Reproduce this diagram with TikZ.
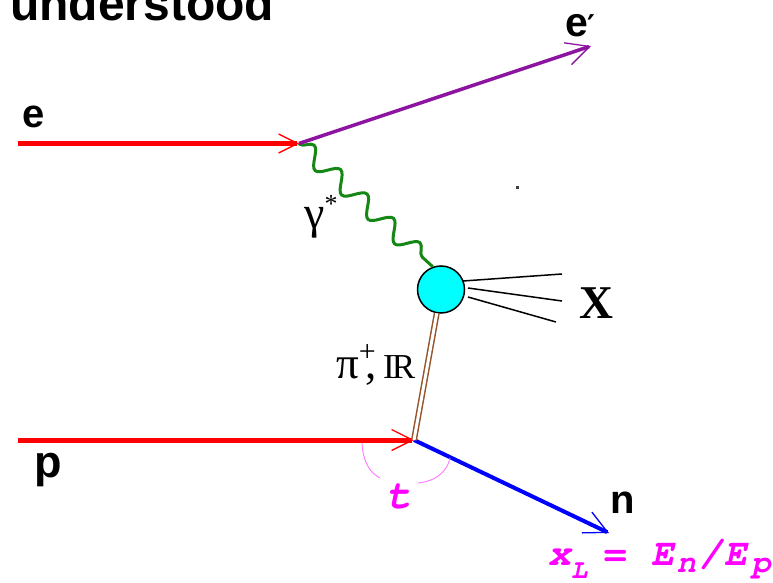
\documentclass[tikz,border=0pt]{standalone}
\usepackage{fontspec}
\setmainfont{Liberation Serif}
\setsansfont{Liberation Sans}
\newfontfamily\cursorf{TeX Gyre Cursor}
\newfontfamily\djv{DejaVu Sans}
\usetikzlibrary{arrows.meta,decorations.pathmorphing}
\definecolor{eprime}{RGB}{140,20,160}
\definecolor{gluon}{RGB}{20,135,20}
\definecolor{brn}{RGB}{150,85,45}
\definecolor{mag}{RGB}{255,0,255}
\definecolor{magl}{RGB}{255,120,255}
\definecolor{cyanb}{RGB}{0,255,255}
\tikzset{
  lab/.style={inner sep=0pt, anchor=base west},
  tip/.style={-{Straight Barb[length=#1,width=#1,line width=1.3pt]}},
  xline/.style={black, line width=1.5pt},
  blob/.style={circle, draw=black, line width=1.5pt, fill=cyanb, minimum size=47pt, inner sep=0pt},
  tarc/.style={magl, line width=0.9pt}
}
\begin{document}
\begin{tikzpicture}[x=1pt,y=-1pt]
\useasboundingbox (0,0) rectangle (773,583);
% title fragment
\node[lab, font=\sffamily\bfseries\fontsize{48}{50}\selectfont] (title) at (10,21) {understood};
% vertices
\coordinate (eA) at (18,143.5);
\coordinate (eV) at (299,143.5);
\coordinate (eE) at (591,46);
\node[blob] (blob) at (441,289.5) {};
\coordinate (pA) at (18,440);
\coordinate (pV) at (414,440);
\coordinate (nE) at (609,533);
% X jets
\coordinate (x1s) at (463,281); \coordinate (x1e) at (562,274);
\coordinate (x2s) at (468,288); \coordinate (x2e) at (562,301);
\coordinate (x3s) at (468,297); \coordinate (x3e) at (556,322);
\draw[xline] (x1s) -- (x1e);
\draw[xline] (x2s) -- (x2e);
\draw[xline] (x3s) -- (x3e);
% photon
\draw[gluon, line width=3pt, decorate,
  decoration={snake, amplitude=9pt, segment length=36pt, pre length=1pt, post length=1pt}]
  (eV) -- (blob.110);
% electron lines
\draw[red, line width=5pt, tip=19pt] (eA) -- (eV);
\draw[eprime, line width=3.5pt, tip=23pt] (eV) -- (eE);
% proton, neutron
\draw[red, line width=5pt, tip=21pt] (pA) -- (pV);
\draw[blue, line width=4pt, tip=23pt] (pV) -- (nE);
% exchange
\draw[brn, line width=1.5pt, double=white, double distance=3pt] (blob) -- (pV);
% t arcs
\coordinate (ta1) at (362,443); \coordinate (ta2) at (380,478);
\coordinate (tb1) at (450,458); \coordinate (tb2) at (418,483);
\draw[tarc] (ta1) .. controls (363,462) and (370,473) .. (ta2);
\draw[tarc] (tb1) .. controls (447,472) and (436,481) .. (tb2);
% stray dot
\fill[black!75] (516,186) rectangle (519,189);
% labels
\node[lab, font=\sffamily\bfseries\fontsize{40}{42}\selectfont] (le) at (22,128) {e};
\node[lab, font=\sffamily\bfseries\fontsize{41}{44}\selectfont] (lep) at (565,37) {e\kern-1pt{\djv\bfseries\fontsize{30}{32}\selectfont ′}};
\node[lab, font=\sffamily\bfseries\fontsize{45}{48}\selectfont] (lp) at (34,477) {p};
\node[lab, font=\sffamily\bfseries\fontsize{40}{42}\selectfont] (ln) at (610,513) {n};
\node[lab, font=\bfseries\fontsize{47}{50}\selectfont] (lx) at (579,318) {X};
\node[lab, font=\fontsize{46}{48}\selectfont] (lg) at (304,228) {γ\raisebox{16pt}{\fontsize{26}{28}\selectfont *}};
\node[lab, font=\fontsize{45}{46}\selectfont] (lpi) at (336,378) {π\raisebox{17pt}{\fontsize{30}{32}\selectfont +}\kern-10pt,\kern6pt{\fontsize{35}{36}\selectfont I\kern-3pt R}};
\node[lab, text=mag, font=\cursorf\bfseries\itshape\fontsize{42}{44}\selectfont] (lt) at (386,508) {t};
\node[lab, text=mag, font=\cursorf\bfseries\itshape\fontsize{38}{40}\selectfont] (lxl) at (548,565)
  {x\raisebox{-13pt}{\fontsize{27}{28}\selectfont L}\hspace{15pt}=\hspace{27pt}E\kern2pt\raisebox{-7pt}{\fontsize{32}{34}\selectfont n}\kern3pt/\kern3pt E\kern4pt\raisebox{-7pt}{\fontsize{32}{34}\selectfont p}};
\end{tikzpicture}
\end{document}
